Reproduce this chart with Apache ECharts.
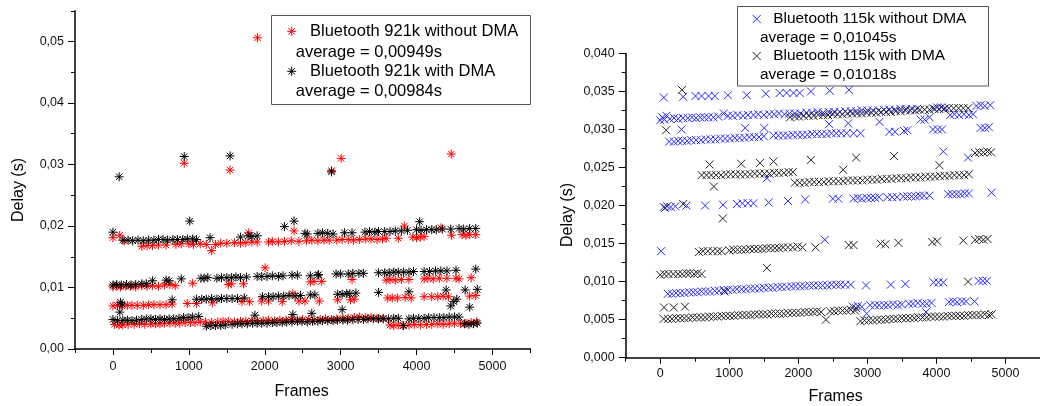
<!DOCTYPE html>
<html>
<head>
<meta charset="utf-8">
<script src="https://cdn.jsdelivr.net/npm/echarts@6/dist/echarts.min.js"></script>
<style>
html,body{margin:0;padding:0;background:#fff;}
#chart{width:1040px;height:406px;}
</style>
</head>
<body>
<div id="chart"></div>
<script>
// ---------- tick labels ----------
const xTickValues = [0, 1000, 2000, 3000, 4000, 5000];
const xTickLabels = ['0', '1000', '2000', '3000', '4000', '5000'];
const leftYTickValues = [0, 0.01, 0.02, 0.03, 0.04, 0.05];
const leftYTickLabels = ['0,00', '0,01', '0,02', '0,03', '0,04', '0,05'];
const rightYTickValues = [0, 0.005, 0.01, 0.015, 0.02, 0.025, 0.03, 0.035, 0.04];
const rightYTickLabels = ['0,000', '0,005', '0,010', '0,015', '0,020', '0,025', '0,030', '0,035', '0,040'];

// ---------- legend / axis texts ----------
const seriesNames = ['Bluetooth 921k without DMA', 'Bluetooth 921k with DMA', 'Bluetooth 115k without DMA', 'Bluetooth 115k with DMA'];
const averageTexts = ['average = 0,00949s', 'average = 0,00984s', 'average = 0,01045s', 'average = 0,01018s'];
const xAxisName = 'Frames';
const yAxisName = 'Delay (s)';

// ---------- Left chart: Bluetooth 921k without DMA (red) ----------
const red921Upper = [[0,0.0181],[90,0.0185],[150,0.0176],[380,0.0167],[450,0.0168],[520,0.0168],[600,0.0169],[700,0.0169],[830,0.0170],[900,0.0171],[1000,0.0171],[1060,0.0170],[1150,0.0171],[1230,0.0170],[1300,0.0160],[1350,0.0170],[1420,0.0172],[1500,0.0172],[1600,0.0173],[1680,0.0172],[1750,0.0173],[1830,0.0174],[1900,0.0174],[2050,0.0174],[2100,0.0175],[2180,0.0174],[2260,0.0175],[2350,0.0176],[2450,0.0175],[2550,0.0176],[2620,0.0177],[2700,0.0176],[2780,0.0177],[2850,0.0177],[2950,0.0177],[3020,0.0178],[3100,0.0178],[3170,0.0177],[3250,0.0178],[3330,0.0179],[3400,0.0179],[3480,0.0178],[3550,0.0179],[3600,0.0180],[3760,0.0180],[3950,0.0182],[4000,0.0181],[4050,0.0182],[4100,0.0183],[4460,0.0185],[4600,0.0186],[4650,0.0185],[4700,0.0186],[4780,0.0186]];
const red921Mid = [[0,0.0101],[50,0.0102],[100,0.0101],[170,0.0102],[230,0.0102],[300,0.0101],[380,0.0103],[450,0.0102],[520,0.0103],[600,0.0102],[680,0.0104],[750,0.0105],[820,0.0103],[1050,0.0107],[1520,0.0105],[1560,0.0106],[1720,0.0106],[2600,0.0109],[2650,0.0110],[2750,0.0110],[3150,0.0113],[3600,0.0112],[3650,0.0113],[3720,0.0112],[3800,0.0113],[3900,0.0113],[4100,0.0114],[4150,0.0115],[4220,0.0114],[4300,0.0115],[4400,0.0115],[4520,0.0115],[4720,0.0116]];
const red921Low = [[0,0.0070],[60,0.0071],[120,0.0070],[190,0.0071],[250,0.0071],[320,0.0071],[400,0.0071],[470,0.0072],[540,0.0072],[620,0.0072],[700,0.0072],[780,0.0073],[980,0.0074],[1100,0.0074],[1310,0.0075],[1700,0.0077],[1800,0.0077],[1960,0.0078],[2050,0.0078],[2230,0.0077],[2450,0.0078],[2720,0.0078],[2960,0.0080],[3130,0.0080],[3180,0.0081],[3620,0.0083],[3680,0.0083],[3750,0.0083],[3850,0.0084],[3930,0.0083],[4100,0.0085],[4200,0.0085],[4280,0.0085],[4350,0.0086],[4420,0.0085],[4700,0.0086],[4780,0.0087]];
const red921Bottom = [[20,0.0040],[80,0.0039],[130,0.0039],[200,0.0040],[280,0.0040],[350,0.0041],[420,0.0040],[500,0.0041],[560,0.0041],[620,0.0041],[680,0.0042],[750,0.0042],[820,0.0042],[880,0.0042],[950,0.0043],[1020,0.0043],[1080,0.0043],[1150,0.0044],[1220,0.0044],[1300,0.0043],[1380,0.0044],[1450,0.0045],[1520,0.0045],[1600,0.0044],[1680,0.0045],[1750,0.0045],[1830,0.0046],[1900,0.0046],[1980,0.0046],[2050,0.0047],[2130,0.0046],[2200,0.0047],[2280,0.0047],[2350,0.0048],[2430,0.0047],[2500,0.0048],[2580,0.0048],[2650,0.0047],[2730,0.0048],[2800,0.0049],[2880,0.0048],[2950,0.0049],[3030,0.0050],[3100,0.0050],[3180,0.0051],[3250,0.0052],[3330,0.0051],[3400,0.0051],[3480,0.0050],[3560,0.0050],[3650,0.0039],[3700,0.0038],[3760,0.0039],[3820,0.0038],[3900,0.0039],[3970,0.0040],[4050,0.0039],[4130,0.0040],[4200,0.0040],[4280,0.0041],[4350,0.0040],[4430,0.0041],[4500,0.0042],[4580,0.0041],[4650,0.0042],[4720,0.0043],[4790,0.0044]];
const red921Outliers = [[1905,0.0506],[939,0.0302],[1543,0.0291],[2880,0.0290],[3007,0.0310],[4458,0.0317],[2005,0.0132],[2386,0.0192],[1790,0.0189],[3840,0.0200],[4322,0.0197],[2370,0.0090],[2530,0.0078],[4560,0.0114]];

// ---------- Left chart: Bluetooth 921k with DMA (black) ----------
const black921Upper = [[0,0.0190],[130,0.0177],[200,0.0177],[260,0.0176],[330,0.0177],[400,0.0176],[470,0.0177],[540,0.0177],[600,0.0178],[660,0.0178],[720,0.0177],[790,0.0178],[850,0.0178],[920,0.0178],[980,0.0179],[1050,0.0179],[1100,0.0178],[1280,0.0181],[1680,0.0182],[1780,0.0184],[1830,0.0183],[1900,0.0184],[2530,0.0188],[2560,0.0187],[2700,0.0188],[2760,0.0189],[2830,0.0188],[2900,0.0187],[3050,0.0189],[3150,0.0189],[3320,0.0190],[3380,0.0191],[3450,0.0190],[3500,0.0191],[3580,0.0191],[3650,0.0191],[3720,0.0192],[3800,0.0192],[3880,0.0193],[4000,0.0194],[4060,0.0193],[4130,0.0194],[4200,0.0194],[4260,0.0194],[4340,0.0195],[4450,0.0195],[4560,0.0196],[4620,0.0195],[4700,0.0196],[4780,0.0196]];
const black921Mid = [[0,0.0104],[50,0.0105],[110,0.0104],[180,0.0105],[240,0.0104],[300,0.0105],[380,0.0106],[440,0.0106],[520,0.0111],[700,0.0112],[740,0.0111],[900,0.0114],[1160,0.0115],[1200,0.0115],[1250,0.0116],[1370,0.0115],[1430,0.0116],[1500,0.0116],[1560,0.0116],[1620,0.0117],[1680,0.0116],[1760,0.0117],[1900,0.0118],[1960,0.0118],[2030,0.0118],[2100,0.0119],[2180,0.0118],[2240,0.0119],[2360,0.0120],[2430,0.0120],[2600,0.0119],[2710,0.0121],[2940,0.0122],[3000,0.0122],[3100,0.0122],[3160,0.0123],[3240,0.0123],[3300,0.0123],[3500,0.0124],[3580,0.0124],[3640,0.0124],[3700,0.0125],[3760,0.0125],[3830,0.0125],[3900,0.0125],[3960,0.0126],[4100,0.0126],[4170,0.0126],[4250,0.0127],[4320,0.0127],[4400,0.0127],[4520,0.0128],[4780,0.0130]];
const black921Low = [[100,0.0076],[120,0.0073],[780,0.0080],[1100,0.0081],[1170,0.0081],[1230,0.0081],[1300,0.0082],[1370,0.0081],[1430,0.0082],[1500,0.0082],[1570,0.0082],[1640,0.0082],[1730,0.0083],[1970,0.0085],[2050,0.0085],[2110,0.0085],[2180,0.0086],[2250,0.0086],[2320,0.0087],[2400,0.0086],[2470,0.0087],[2600,0.0088],[2660,0.0088],[2960,0.0089],[3020,0.0089],[3080,0.0090],[3120,0.0090],[3200,0.0091],[3500,0.0092],[3900,0.0093],[4390,0.0096],[4640,0.0096],[4800,0.0097],[4450,0.0070],[4700,0.0068],[3020,0.0064],[4530,0.0081],[4490,0.0077]];
const black921Bottom = [[0,0.0048],[60,0.0046],[130,0.0047],[190,0.0047],[250,0.0046],[310,0.0047],[380,0.0048],[440,0.0049],[500,0.0049],[560,0.0048],[620,0.0049],[680,0.0048],[740,0.0049],[800,0.0049],[870,0.0050],[930,0.0051],[990,0.0051],[1050,0.0052],[1130,0.0053],[1230,0.0037],[1290,0.0038],[1350,0.0038],[1420,0.0038],[1480,0.0039],[1570,0.0040],[1640,0.0041],[1700,0.0041],[1770,0.0041],[1840,0.0042],[1900,0.0042],[1960,0.0042],[2030,0.0042],[2100,0.0043],[2160,0.0043],[2230,0.0043],[2290,0.0044],[2360,0.0044],[2430,0.0045],[2490,0.0045],[2560,0.0044],[2630,0.0045],[2700,0.0045],[2760,0.0046],[2830,0.0046],[2900,0.0046],[2960,0.0047],[3030,0.0047],[3090,0.0047],[3160,0.0048],[3230,0.0048],[3300,0.0048],[3360,0.0049],[3430,0.0049],[3500,0.0049],[3560,0.0049],[3630,0.0049],[3700,0.0050],[3760,0.0050],[3830,0.0038],[3900,0.0049],[3960,0.0050],[4030,0.0050],[4100,0.0050],[4160,0.0051],[4230,0.0051],[4300,0.0051],[4360,0.0051],[4430,0.0052],[4500,0.0052],[4560,0.0052],[4630,0.0041],[4690,0.0040],[4750,0.0041],[4800,0.0042]];
const black921Outliers = [[82,0.0280],[939,0.0313],[1543,0.0314],[2880,0.0288],[1012,0.0208],[2386,0.0208],[2259,0.0199],[4041,0.0207],[90,0.0060],[1870,0.0055],[2370,0.0056],[2620,0.0058],[2700,0.0120]];

// ---------- Right chart: Bluetooth 115k without DMA (blue) ----------
const blue115Top = [[52,0.0342],[333,0.0343],[510,0.0344],[600,0.0344],[700,0.0344],[790,0.0344],[981,0.0345],[1253,0.0345],[1530,0.0347],[1730,0.0348],[1830,0.0348],[1930,0.0348],[2020,0.0348],[2183,0.0350],[2455,0.0351],[2732,0.0352]];
const blue115High = [[0,0.0312],[30,0.0316],[60,0.0313],[90,0.0318],[140,0.0314],[200,0.0315],[260,0.0314],[330,0.0315],[400,0.0315],[460,0.0316],[520,0.0315],[580,0.0316],[640,0.0316],[700,0.0316],[770,0.0316],[840,0.0317],[920,0.0321],[980,0.0318],[1050,0.0318],[1120,0.0319],[1200,0.0318],[1270,0.0319],[1350,0.0319],[1420,0.0320],[1500,0.0319],[1580,0.0320],[1650,0.0320],[1720,0.0321],[1800,0.0320],[1870,0.0321],[1950,0.0321],[2030,0.0321],[2120,0.0322],[2200,0.0322],[2280,0.0323],[2360,0.0322],[2440,0.0323],[2520,0.0323],[2600,0.0323],[2680,0.0324],[2760,0.0324],[2840,0.0324],[2920,0.0325],[3000,0.0325],[3080,0.0325],[3160,0.0325],[3240,0.0326],[3320,0.0326],[3400,0.0326],[3480,0.0327],[3560,0.0327],[3640,0.0327],[3720,0.0327],[3950,0.0328],[4010,0.0329],[4070,0.0329],[4130,0.0328],[4200,0.0319],[4260,0.0320],[4330,0.0319],[4400,0.0320],[4470,0.0319],[4530,0.0320],[4580,0.0331],[4640,0.0332],[4700,0.0331],[4780,0.0332]];
const blue115Second = [[130,0.0284],[200,0.0284],[260,0.0285],[320,0.0285],[390,0.0285],[450,0.0286],[520,0.0286],[590,0.0286],[660,0.0287],[730,0.0287],[800,0.0287],[870,0.0288],[940,0.0288],[1010,0.0288],[1080,0.0289],[1150,0.0289],[1220,0.0289],[1290,0.0290],[1360,0.0290],[1430,0.0290],[1500,0.0291],[1640,0.0292],[1710,0.0292],[1780,0.0292],[1850,0.0292],[1920,0.0293],[1990,0.0293],[2060,0.0293],[2130,0.0293],[2200,0.0294],[2270,0.0294],[2340,0.0294],[2410,0.0294],[2480,0.0295],[2550,0.0295],[2620,0.0295],[2700,0.0295],[2800,0.0295],[2900,0.0295],[3320,0.0297],[3400,0.0297],[3530,0.0298],[3580,0.0299],[3950,0.0300],[4020,0.0300],[4080,0.0300],[4640,0.0302],[4700,0.0302],[4760,0.0303]];
const blue115Mid = [[50,0.0198],[100,0.0199],[150,0.0198],[220,0.0199],[380,0.0200],[650,0.0200],[910,0.0201],[1110,0.0202],[1190,0.0203],[1270,0.0203],[1350,0.0203],[1570,0.0204],[1850,0.0206],[2100,0.0208],[2500,0.0209],[2580,0.0209],[2800,0.0209],[2860,0.0210],[2920,0.0209],[2990,0.0210],[3050,0.0210],[3110,0.0210],[3170,0.0211],[3290,0.0211],[3360,0.0211],[3430,0.0211],[3520,0.0212],[3580,0.0212],[3640,0.0212],[3700,0.0212],[3760,0.0213],[3820,0.0213],[3900,0.0213],[4170,0.0215],[4230,0.0215],[4290,0.0215],[4350,0.0215],[4410,0.0216],[4470,0.0216],[4800,0.0217]];
const blue115Low = [[110,0.0084],[170,0.0084],[230,0.0085],[290,0.0085],[350,0.0085],[420,0.0086],[480,0.0086],[540,0.0086],[600,0.0087],[660,0.0087],[720,0.0087],[790,0.0088],[850,0.0088],[920,0.0089],[980,0.0089],[1050,0.0089],[1110,0.0090],[1180,0.0090],[1240,0.0090],[1310,0.0091],[1370,0.0091],[1440,0.0091],[1500,0.0092],[1570,0.0092],[1630,0.0092],[1700,0.0093],[1760,0.0093],[1830,0.0093],[1900,0.0094],[1960,0.0094],[2030,0.0094],[2090,0.0094],[2160,0.0095],[2220,0.0095],[2290,0.0095],[2350,0.0095],[2420,0.0095],[2480,0.0096],[2550,0.0096],[2610,0.0096],[2680,0.0096],[2760,0.0096],[2980,0.0095],[3340,0.0096],[3550,0.0097],[3960,0.0099],[4030,0.0099],[4100,0.0099],[4610,0.0101],[4670,0.0101],[4730,0.0101]];
const blue115Bottom = [[2790,0.0067],[2860,0.0068],[2920,0.0067],[3040,0.0069],[3110,0.0069],[3170,0.0069],[3240,0.0069],[3300,0.0069],[3370,0.0070],[3440,0.0069],[3500,0.0070],[3600,0.0071],[3660,0.0071],[3730,0.0072],[3800,0.0071],[3860,0.0071],[3930,0.0072],[4180,0.0073],[4240,0.0074],[4300,0.0073],[4370,0.0074],[4430,0.0074],[4550,0.0074]];
const blue115Outliers = [[309,0.0300],[1230,0.0302],[1507,0.0302],[2446,0.0307],[2723,0.0308],[3176,0.0310],[3771,0.0313],[3830,0.0313],[3900,0.0316],[4100,0.0271],[4458,0.0263],[1545,0.0236],[2383,0.0155],[14,0.0140],[2990,0.0058],[3850,0.0060]];

// ---------- Right chart: Bluetooth 115k with DMA (black) ----------
const black115High = [[1880,0.0316],[1950,0.0317],[2010,0.0317],[2080,0.0318],[2150,0.0318],[2220,0.0318],[2290,0.0319],[2360,0.0319],[2430,0.0319],[2500,0.0320],[2570,0.0320],[2640,0.0320],[2710,0.0321],[2780,0.0321],[2850,0.0321],[2920,0.0321],[2990,0.0322],[3060,0.0322],[3130,0.0322],[3200,0.0323],[3270,0.0323],[3340,0.0323],[3410,0.0324],[3480,0.0324],[3550,0.0325],[3620,0.0325],[3690,0.0325],[3760,0.0326],[3830,0.0326],[3900,0.0326],[3970,0.0327],[4040,0.0327],[4110,0.0327],[4180,0.0328],[4250,0.0328],[4320,0.0328],[4390,0.0328],[4460,0.0328]];
const black115Band24a = [[600,0.0240],[670,0.0240],[740,0.0240],[810,0.0240],[880,0.0240],[950,0.0241],[1020,0.0241],[1090,0.0241],[1160,0.0241],[1230,0.0241],[1300,0.0241],[1370,0.0242],[1440,0.0242],[1510,0.0242],[1580,0.0242],[1650,0.0243],[1720,0.0243],[1790,0.0243],[1860,0.0244],[1920,0.0244]];
const black115Band24b = [[1950,0.0230],[2020,0.0230],[2090,0.0230],[2160,0.0231],[2230,0.0231],[2300,0.0231],[2370,0.0231],[2440,0.0232],[2510,0.0232],[2580,0.0232],[2650,0.0232],[2720,0.0233],[2790,0.0233],[2860,0.0233],[2930,0.0233],[3000,0.0234],[3070,0.0234],[3140,0.0234],[3210,0.0235],[3280,0.0235],[3350,0.0235],[3420,0.0236],[3490,0.0236],[3560,0.0236],[3630,0.0237],[3700,0.0237],[3770,0.0237],[3840,0.0238],[3910,0.0238],[3980,0.0238],[4050,0.0239],[4120,0.0239],[4190,0.0239],[4260,0.0240],[4330,0.0240],[4400,0.0240],[4470,0.0241],[4560,0.0269],[4620,0.0270],[4680,0.0270],[4740,0.0271],[4790,0.0270]];
const black115Mid = [[560,0.0139],[620,0.0140],[690,0.0140],[760,0.0140],[830,0.0140],[890,0.0140],[1000,0.0141],[1060,0.0142],[1120,0.0142],[1180,0.0142],[1240,0.0142],[1300,0.0143],[1360,0.0143],[1420,0.0143],[1480,0.0143],[1540,0.0144],[1600,0.0144],[1660,0.0144],[1720,0.0144],[1780,0.0145],[1850,0.0145],[1920,0.0145],[1990,0.0146],[2060,0.0145],[2250,0.0145],[2730,0.0148],[2800,0.0148],[3190,0.0150],[3260,0.0149],[3450,0.0151],[3940,0.0152],[4010,0.0153],[4390,0.0154],[4560,0.0155],[4620,0.0156],[4680,0.0155],[4740,0.0156],[0,0.0109],[60,0.0110],[120,0.0110],[190,0.0110],[260,0.0110],[320,0.0110],[380,0.0111],[430,0.0111],[490,0.0110],[540,0.0111],[600,0.0110]];
const black115Bottom = [[50,0.0051],[110,0.0051],[170,0.0051],[230,0.0052],[290,0.0052],[350,0.0052],[410,0.0052],[470,0.0053],[530,0.0053],[590,0.0053],[650,0.0053],[710,0.0054],[770,0.0054],[830,0.0054],[890,0.0055],[950,0.0055],[1010,0.0055],[1070,0.0055],[1130,0.0056],[1190,0.0056],[1250,0.0056],[1310,0.0056],[1370,0.0057],[1430,0.0057],[1490,0.0057],[1550,0.0057],[1610,0.0058],[1670,0.0058],[1730,0.0058],[1790,0.0058],[1850,0.0059],[1910,0.0059],[1970,0.0059],[2030,0.0059],[2090,0.0060],[2150,0.0060],[2210,0.0060],[2270,0.0061],[2330,0.0060],[2460,0.0061],[2520,0.0061],[2580,0.0062],[2640,0.0062],[2700,0.0062],[2760,0.0063],[2820,0.0062],[2900,0.0048],[2960,0.0049],[3020,0.0049],[3080,0.0049],[3140,0.0050],[3200,0.0050],[3260,0.0050],[3320,0.0051],[3380,0.0051],[3440,0.0051],[3500,0.0052],[3560,0.0052],[3620,0.0052],[3680,0.0052],[3740,0.0053],[3800,0.0053],[3860,0.0053],[3920,0.0054],[3980,0.0054],[4040,0.0054],[4100,0.0054],[4160,0.0055],[4220,0.0055],[4280,0.0055],[4340,0.0055],[4400,0.0055],[4460,0.0056],[4520,0.0056],[4580,0.0056],[4640,0.0056],[4700,0.0057],[4760,0.0056],[4800,0.0057]];
const black115Outliers = [[314,0.0352],[85,0.0299],[715,0.0254],[1173,0.0255],[1445,0.0256],[1640,0.0258],[2183,0.0260],[2650,0.0247],[2837,0.0263],[3385,0.0265],[4043,0.0253],[777,0.0225],[906,0.0183],[333,0.0202],[71,0.0197],[1545,0.0118],[4458,0.0100],[930,0.0087],[55,0.0066],[195,0.0066],[358,0.0067],[2400,0.0050],[2840,0.0065]];

// ---------- styling ----------
const RED = '#ff0000', BLACK = '#000000', BLUE = '#2a2aff', GRAYX = '#222222';
const STAR = 'path://M4.5,0L4.5,9M0,4.5L9,4.5M1.32,1.32L7.68,7.68M7.68,1.32L1.32,7.68';
const CROSS = 'path://M0,0L8,8M8,0L0,8';
const FONT = 'Liberation Sans, Arial, sans-serif';

const chart = echarts.init(document.getElementById('chart'), null, {renderer: 'canvas'});

function labelFrom(values, labels) {
  return function (v) {
    let best = 0, bd = Infinity;
    for (let i = 0; i < values.length; i++) {
      const d = Math.abs(values[i] - v);
      if (d < bd) { bd = d; best = i; }
    }
    return labels[best];
  };
}

const tickLine = {color: '#000', width: 1};
function mainX(grid, margin) {
  return {
    type: 'value', gridIndex: grid, position: 'bottom', min: -500, max: 5500,
    axisLine: {onZero: false, lineStyle: {color: '#000', width: 1.5}},
    axisTick: {customValues: xTickValues, length: 6, lineStyle: tickLine},
    axisLabel: {customValues: xTickValues, formatter: labelFrom(xTickValues, xTickLabels), margin: margin,
      fontSize: 12.5, fontFamily: FONT, color: '#111'},
    splitLine: {show: false}
  };
}
function minorX(grid) {
  return {
    type: 'value', gridIndex: grid, position: 'bottom', min: -500, max: 5500, interval: 500,
    axisLine: {show: false, onZero: false},
    axisTick: {length: 4, lineStyle: tickLine},
    axisLabel: {show: false}, splitLine: {show: false}
  };
}
function mainY(grid, max, values, labels) {
  return {
    type: 'value', gridIndex: grid, position: 'left', min: 0, max: max,
    axisLine: {onZero: false, lineStyle: {color: '#000', width: 1.5}},
    axisTick: {customValues: values, length: 7, lineStyle: tickLine},
    axisLabel: {customValues: values, formatter: labelFrom(values, labels), margin: 11,
      fontSize: 12.5, fontFamily: FONT, color: '#111'},
    splitLine: {show: false}
  };
}
function minorY(grid, max, step) {
  return {
    type: 'value', gridIndex: grid, position: 'left', min: 0, max: max, interval: step,
    axisLine: {show: false, onZero: false},
    axisTick: {length: 4, lineStyle: tickLine},
    axisLabel: {show: false}, splitLine: {show: false}
  };
}

function scatter(name, data, xi, yi, symbol, size, color) {
  return {
    name: name, type: 'scatter', xAxisIndex: xi, yAxisIndex: yi, data: data,
    symbol: symbol, symbolSize: size, silent: true,
    itemStyle: {color: 'rgba(0,0,0,0)', borderColor: color, borderWidth: 1, opacity: 1}
  };
}

// legend markers
function starLines(cx, cy, r, color) {
  const d = r * 0.7071;
  const segs = [[0, -r, 0, r], [-r, 0, r, 0], [-d, -d, d, d], [d, -d, -d, d]];
  return segs.map(s => ({type: 'line', z: 101, shape: {x1: cx + s[0], y1: cy + s[1], x2: cx + s[2], y2: cy + s[3]},
    style: {stroke: color, lineWidth: 1}}));
}
function crossLines(cx, cy, r, color) {
  const segs = [[-r, -r, r, r], [r, -r, -r, r]];
  return segs.map(s => ({type: 'line', z: 101, shape: {x1: cx + s[0], y1: cy + s[1], x2: cx + s[2], y2: cy + s[3]},
    style: {stroke: color, lineWidth: 1}}));
}
function txt(x, y, s, size, rot) {
  return {type: 'text', z: 101, x: x, y: y, rotation: rot || 0,
    style: {text: s, fontSize: size, fontFamily: FONT, fill: '#000', align: rot ? 'center' : 'left', verticalAlign: 'middle'}};
}
function ctxt(x, y, s, size) {
  return {type: 'text', z: 101, x: x, y: y,
    style: {text: s, fontSize: size, fontFamily: FONT, fill: '#000', align: 'center', verticalAlign: 'middle'}};
}

const graphics = [
  // left legend
  {type: 'rect', z: 100, shape: {x: 271.5, y: 15.5, width: 259, height: 89}, style: {fill: '#fff', stroke: '#555', lineWidth: 1}},
  ...starLines(291.7, 31.3, 4.5, RED),
  txt(310, 31.3, seriesNames[0], 16.5),
  txt(295.7, 52, averageTexts[0], 16.5),
  ...starLines(291.7, 71.3, 4.5, BLACK),
  txt(310, 71.3, seriesNames[1], 16.5),
  txt(295.7, 91.3, averageTexts[1], 16.5),
  // right legend
  {type: 'rect', z: 100, shape: {x: 737.5, y: 6.5, width: 251, height: 79.5}, style: {fill: '#fff', stroke: '#555', lineWidth: 1}},
  ...crossLines(756.7, 19, 4, BLUE),
  txt(773.3, 19, seriesNames[2], 15.4),
  txt(760, 37.3, averageTexts[2], 15.4),
  ...crossLines(756.7, 56, 4, GRAYX),
  txt(773.3, 56, seriesNames[3], 15.4),
  txt(760, 74.3, averageTexts[3], 15.4),
  // axis names
  txt(19, 190, yAxisName, 16, Math.PI / 2),
  txt(568, 215, yAxisName, 16, Math.PI / 2),
  ctxt(301.7, 391.7, xAxisName, 16),
  ctxt(835.7, 396.7, xAxisName, 16)
];

const option = {
  animation: false,
  backgroundColor: '#fff',
  grid: [
    {left: 75, top: 10.75, width: 455.4, height: 338.25, containLabel: false},
    {left: 625.7, top: 53.4, width: 419.4, height: 304.3, containLabel: false}
  ],
  xAxis: [mainX(0, 11), minorX(0), mainX(1, 9), minorX(1)],
  yAxis: [
    mainY(0, 0.055, leftYTickValues, leftYTickLabels), minorY(0, 0.055, 0.005),
    mainY(1, 0.04, rightYTickValues, rightYTickLabels), minorY(1, 0.04, 0.0025)
  ],
  series: [
    scatter(seriesNames[0], [...red921Upper, ...red921Mid, ...red921Low, ...red921Bottom, ...red921Outliers], 0, 0, STAR, 9, RED),
    scatter(seriesNames[1], [...black921Upper, ...black921Mid, ...black921Low, ...black921Bottom, ...black921Outliers], 0, 0, STAR, 9, BLACK),
    scatter(seriesNames[2], [...blue115Top, ...blue115High, ...blue115Second, ...blue115Mid, ...blue115Low, ...blue115Bottom, ...blue115Outliers], 2, 2, CROSS, 8, BLUE),
    scatter(seriesNames[3], [...black115High, ...black115Band24a, ...black115Band24b, ...black115Mid, ...black115Bottom, ...black115Outliers], 2, 2, CROSS, 8, GRAYX)
  ],
  graphic: graphics
};
chart.setOption(option);
</script>
</body>
</html>
